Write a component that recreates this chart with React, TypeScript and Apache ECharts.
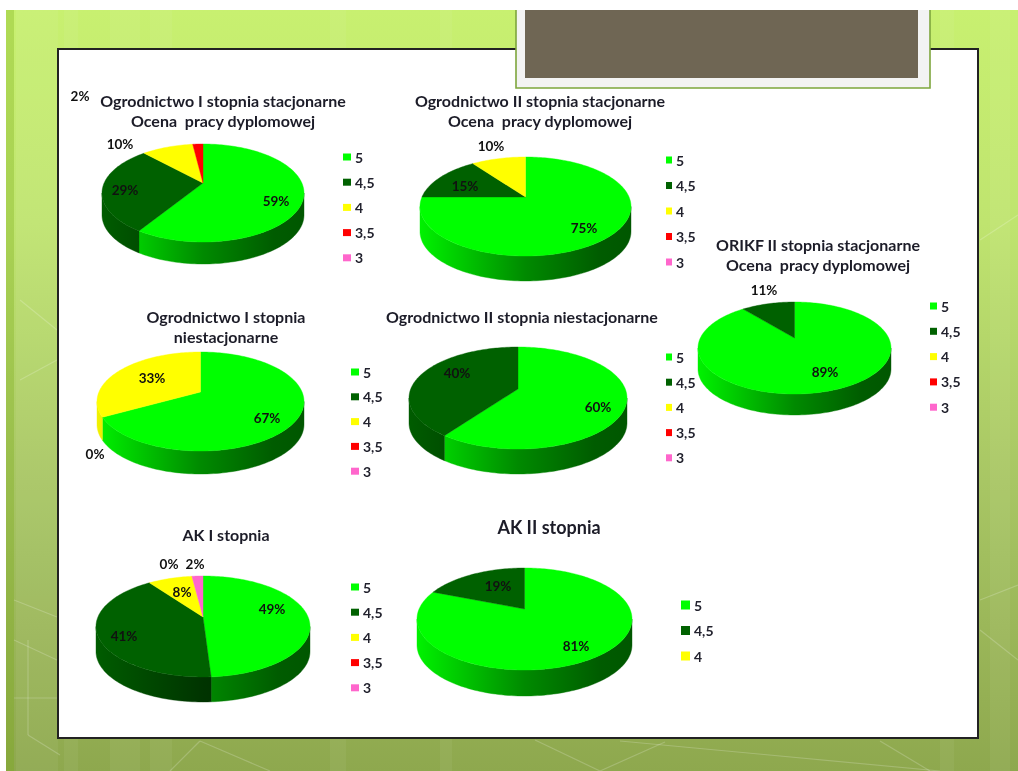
import React, { useEffect, useRef } from "react";
import * as echarts from "echarts";

const categories = ["5", "4,5", "4", "3,5", "3"];
const ogrodnictwoIStac = [59, 29, 10, 2, 0];
const ogrodnictwoIIStac = [75, 15, 10, 0, 0];
const orikfIIStac = [89, 11, 0, 0, 0];
const ogrodnictwoINiestac = [67, 0, 33, 0, 0];
const ogrodnictwoIINiestac = [60, 40, 0, 0, 0];
const akI = [49, 41, 8, 0, 2];
const akII = [81, 19, 0];

const sliceColors = ["#00ff00", "#006100", "#ffff00", "#ff0000", "#ff66cc"];
const FONT = "Lato";

type Pie = {
  values: number[];
  title: string; tx: number; ty: number; tsize?: number;
  left: number; right: number; top: number; apex: number; bottom: number; depth: number;
  labels: ([number, number] | null)[];
  lx: number; ly: number; gap: number; lw: number; lh: number;
};

const pies: Pie[] = [
  { values: ogrodnictwoIStac, title: "Ogrodnictwo I stopnia stacjonarne\nOcena  pracy dyplomowej", tx: 223, ty: 91,
    left: 102, right: 304, top: 144, apex: 183, bottom: 242, depth: 22,
    labels: [[276, 201], [125, 190], [120, 144], [80, 96], null], lx: 343, ly: 157, gap: 25.2, lw: 8, lh: 7 },
  { values: ogrodnictwoIIStac, title: "Ogrodnictwo II stopnia stacjonarne\nOcena  pracy dyplomowej", tx: 540, ty: 91,
    left: 420, right: 631, top: 157, apex: 197, bottom: 256, depth: 25,
    labels: [[584, 228], [465, 186], [491, 146], null, null], lx: 666, ly: 160, gap: 25.5, lw: 6, lh: 7 },
  { values: orikfIIStac, title: "ORIKF II stopnia stacjonarne\nOcena  pracy dyplomowej", tx: 818, ty: 235,
    left: 698, right: 891, top: 302, apex: 338, bottom: 394, depth: 21,
    labels: [[825, 372], [764, 290], null, null, null], lx: 930, ly: 306, gap: 25.3, lw: 7, lh: 7 },
  { values: ogrodnictwoINiestac, title: "Ogrodnictwo I stopnia\nniestacjonarne", tx: 226, ty: 307,
    left: 97, right: 304, top: 352, apex: 392, bottom: 451, depth: 23,
    labels: [[267, 418], [95, 454], [152, 378], null, null], lx: 351, ly: 372, gap: 24.8, lw: 8, lh: 7 },
  { values: ogrodnictwoIINiestac, title: "Ogrodnictwo II stopnia niestacjonarne", tx: 522, ty: 307,
    left: 409, right: 627, top: 347, apex: 389, bottom: 449, depth: 25,
    labels: [[598, 407], [457, 373], null, null, null], lx: 666, ly: 357, gap: 25.2, lw: 6, lh: 7 },
  { values: akI, title: "AK I stopnia", tx: 226, ty: 525,
    left: 96, right: 310, top: 576, apex: 617, bottom: 677, depth: 25,
    labels: [[272, 609], [124, 636], [182, 592], [169, 564], [195, 564]], lx: 351, ly: 587, gap: 25.2, lw: 8, lh: 7 },
  { values: akII, title: "AK II stopnia", tx: 549, ty: 517, tsize: 18,
    left: 417, right: 632, top: 568, apex: 609, bottom: 670, depth: 26,
    labels: [[576, 646], [498, 586], null], lx: 681, ly: 605, gap: 25.5, lw: 9, lh: 9 },
];

function shade(hex: string, f: number) {
  const n = parseInt(hex.slice(1), 16);
  const c = [(n >> 16) & 255, (n >> 8) & 255, n & 255].map((v) => Math.round(v * f));
  return `rgb(${c[0]},${c[1]},${c[2]})`;
}

function makeRenderItem(pie: Pie, catIndex: number) {
  const total = pie.values.reduce((a, b) => a + b, 0);
  const before = pie.values.slice(0, catIndex).reduce((a, b) => a + b, 0);
  const color = sliceColors[catIndex];
  const cx = (pie.left + pie.right) / 2;
  const r = (pie.bottom - pie.apex) / (pie.apex - pie.top);
  const k = (r - 1) / (r + 1);
  const ry = (pie.apex - pie.top) * (1 + k);
  const rx = ((pie.right - pie.left) / 2) * Math.sqrt(1 - k * k);
  const pt = (a: number): [number, number] => {
    const w = 1 / (1 + k * Math.cos(a));
    return [cx + rx * Math.sin(a) * w, pie.apex - ry * Math.cos(a) * w];
  };
  return (_params: any, api: any) => {
    const value = api.value(0);
    const children: any[] = [];
    const a0 = (before / total) * Math.PI * 2;
    const a1 = ((before + value) / total) * Math.PI * 2;
    if (value > 0) {
      const steps = Math.max(6, Math.ceil((a1 - a0) * 40));
      const arc: [number, number][] = [];
      for (let i = 0; i <= steps; i++) arc.push(pt(a0 + ((a1 - a0) * i) / steps));
      const f0 = Math.acos(-k);
      const f1 = Math.PI * 2 - f0;
      const s0 = Math.max(a0, f0);
      const s1 = Math.min(a1, f1);
      if (s1 > s0) {
        const n = Math.max(4, Math.ceil((s1 - s0) * 40));
        const front: [number, number][] = [];
        for (let i = 0; i <= n; i++) front.push(pt(s0 + ((s1 - s0) * i) / n));
        const lower = front.slice().reverse().map((p) => [p[0], p[1] + pie.depth]);
        const fill = new echarts.graphic.LinearGradient(pie.left, 0, pie.right, 0, [
          { offset: 0, color: shade(color, 0.95) },
          { offset: 0.5, color: shade(color, 0.54) },
          { offset: 0.85, color: shade(color, 0.36) },
          { offset: 1, color: shade(color, 0.34) },
        ], true);
        children.push({ type: "polygon", shape: { points: [...front, ...lower] }, style: { fill, stroke: fill, lineWidth: 0.4 }, z2: 1 });
      }
      children.push({
        type: "polygon",
        shape: { points: [[cx, pie.apex], ...arc] },
        style: { fill: color, stroke: color, lineWidth: 0.4 },
        z2: 5,
      });
    }
    const pos = pie.labels[catIndex];
    if (pos) {
      children.push({
        type: "text", x: pos[0], y: pos[1], z2: 20,
        style: { text: `${value}%`, fill: "#111", font: `bold 13.5px ${FONT}`, align: "center", verticalAlign: "middle" },
      });
    }
    return { type: "group", children };
  };
}

const white = (o: number) => `rgba(255,255,255,${o})`;

function backgroundGraphics() {
  const els: any[] = [];
  els.push({
    type: "rect", z: 0, shape: { x: 6, y: 10, width: 1012, height: 761 },
    style: {
      fill: new echarts.graphic.LinearGradient(0, 0, 0, 1, [
        { offset: 0, color: "#c8f070" },
        { offset: 0.28, color: "#bfe46f" },
        { offset: 0.62, color: "#a8c664" },
        { offset: 1, color: "#8ea84e" },
      ]),
    },
  });
  els.push({ type: "rect", z: 0, shape: { x: 6, y: 10, width: 8, height: 761 }, style: { fill: "rgba(120,170,20,0.3)" } });
  const bands = [[16, 24], [40, 18], [64, 14], [110, 30], [150, 22], [330, 16], [440, 12], [990, 20], [940, 14]];
  bands.forEach(([x, w]) => els.push({ type: "rect", z: 0, shape: { x, y: 10, width: w, height: 761 }, style: { fill: white(0.05) } }));
  const lines = [
    [14, 600, 57, 617], [14, 640, 57, 660], [14, 698, 57, 698], [28, 640, 28, 735], [28, 735, 60, 755],
    [200, 741, 170, 771], [200, 741, 270, 771], [535, 740, 600, 771], [665, 742, 600, 771], [620, 741, 940, 771],
    [880, 741, 930, 771], [980, 600, 1018, 585], [980, 630, 1018, 660], [980, 240, 1018, 215],
    [20, 300, 57, 330], [20, 380, 57, 360],
  ];
  lines.forEach(([x1, y1, x2, y2]) =>
    els.push({ type: "line", z: 0, shape: { x1, y1, x2, y2 }, style: { stroke: white(0.2), lineWidth: 1.2 } }));
  els.push({ type: "rect", z: 1, shape: { x: 58, y: 49, width: 920, height: 689 }, style: { fill: "#ffffff", stroke: "#222222", lineWidth: 2 } });
  els.push({ type: "rect", z: 1, shape: { x: 516, y: 4, width: 414, height: 84 }, style: { fill: "#f3f3f3", stroke: "#7ea63c", lineWidth: 1.6 } });
  els.push({ type: "rect", z: 1, shape: { x: 525, y: 4, width: 393, height: 74 }, style: { fill: "#6f6654" } });
  els.push({ type: "rect", z: 1, shape: { x: 0, y: 0, width: 1018, height: 10 }, style: { fill: "#ffffff" } });
  return els;
}

export default function App() {
  const ref = useRef<HTMLDivElement>(null);
  useEffect(() => {
    document.body.style.margin = "0";
    const chart = echarts.init(ref.current!, undefined, { renderer: "svg" });
    const series: any[] = [];
    pies.forEach((pie) => {
      pie.values.forEach((v, c) => {
        series.push({
          type: "custom", name: categories[c], coordinateSystem: "none", silent: true,
          itemStyle: { color: sliceColors[c] },
          data: [[v]], renderItem: makeRenderItem(pie, c), z: 3,
        });
      });
    });
    chart.setOption({
      animation: false,
      backgroundColor: "#ffffff",
      graphic: backgroundGraphics(),
      title: pies.map((p) => ({
        text: p.title, left: p.tx, top: p.ty, textAlign: "center", padding: 0, z: 6,
        textStyle: { fontFamily: FONT, fontWeight: "bold", fontSize: p.tsize ?? 16, lineHeight: 19.5, color: "#1c1c28" },
      })),
      legend: pies.map((p) => ({
        data: categories.slice(0, p.values.length), orient: "vertical", left: p.lx, top: p.ly - 7,
        padding: 0, itemGap: p.gap - 14, itemWidth: p.lw, itemHeight: p.lh, icon: "rect", selectedMode: false, z: 6,
        textStyle: { fontFamily: FONT, fontSize: 14, fontWeight: "bold", color: "#22222e", lineHeight: 14, height: 14, padding: [0, 0, 0, -1] },
      })),
      series,
    });
    return () => chart.dispose();
  }, []);
  return <div ref={ref} style={{ position: "fixed", left: 0, top: 0, width: 1018, height: 771, filter: "blur(0.7px)" }} />;
}
